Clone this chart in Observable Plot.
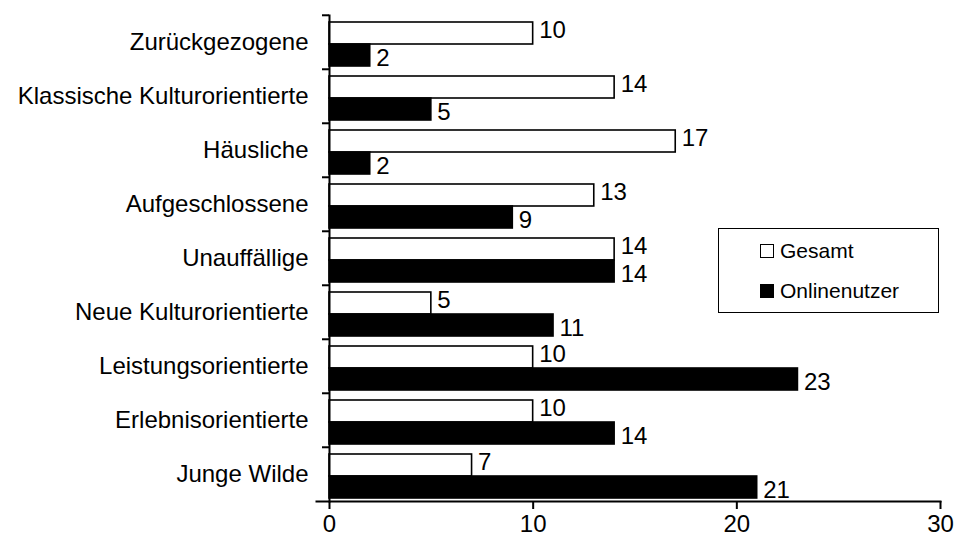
<!DOCTYPE html>
<html><head><meta charset="utf-8">
<script src="https://cdn.jsdelivr.net/npm/d3@7"></script>
<script src="https://cdn.jsdelivr.net/npm/@observablehq/plot@0.6"></script>
<style>
body{margin:0;background:#fff;font-family:"Liberation Sans",Arial,sans-serif;}
#wrap{position:relative;width:957px;height:552px;}
.legend{position:absolute;left:718px;top:228px;width:221px;height:85px;border:1.6px solid #000;box-sizing:border-box;font-size:21px;color:#000;}
.row{position:absolute;left:41px;display:flex;align-items:center;height:24px;}
.sw{width:12px;height:12px;border:1.6px solid #000;margin-right:6px;}
</style></head><body><div id="wrap"></div>
<script>
const categories = ["Zurückgezogene","Klassische Kulturorientierte","Häusliche","Aufgeschlossene","Unauffällige","Neue Kulturorientierte","Leistungsorientierte","Erlebnisorientierte","Junge Wilde"];
const gesamt = [10,14,17,13,14,5,10,10,7];
const online = [2,5,2,9,14,11,23,14,21];
const series = ["Gesamt","Onlinenutzer"];
const seriesFill = ["#ffffff","#000000"];
const xTicks = [0,10,20,30];

const data = categories.flatMap((c,i)=>[
  {cat:c, series:series[0], value:gesamt[i]},
  {cat:c, series:series[1], value:online[i]}
]);
const marginTop = 13, marginBottom = 49, H = 552;
const step = (H - marginTop - marginBottom) / categories.length;
const font = "Liberation Sans, Arial, sans-serif";

const plot = Plot.plot({
  width: 957, height: H,
  marginLeft: 329, marginRight: 17, marginTop, marginBottom,
  style: {fontFamily: font, fontSize: "24px", color: "#000", background: "#fff"},
  x: {domain: [0, 30], ticks: xTicks},
  fy: {domain: categories, padding: 0},
  y: {domain: series, paddingInner: 0, paddingOuter: 0.21, align: 0.74, axis: null},
  color: {domain: series, range: seriesFill},
  marks: [
    Plot.barX(data, {fy: "cat", y: "series", x: "value", fill: "series", stroke: "#000", strokeWidth: 1.6}),
    Plot.text(data.filter(d => d.series === series[0]), {fy: "cat", y: "series", x: "value", text: d => String(d.value), textAnchor: "start", dx: 6, dy: -3, fill: "#000", fontSize: 24, fontFamily: font}),
    Plot.text(data.filter(d => d.series === series[1]), {fy: "cat", y: "series", x: "value", text: d => String(d.value), textAnchor: "start", dx: 6, dy: 3, fill: "#000", fontSize: 24, fontFamily: font}),
    Plot.axisFy({anchor: "left", tickSize: 0, tickPadding: 21, label: null, fontSize: 24, fontFamily: font}),
    Plot.axisFy({anchor: "left", tickSize: 7, tickFormat: () => "", label: null, dy: -step / 2, strokeWidth: 2}),
    Plot.axisX({anchor: "bottom", ticks: xTicks, tickSize: 8, tickPadding: 5, tickFormat: d => String(d), label: null, strokeWidth: 2, fontSize: 24, fontFamily: font}),
    Plot.frame({anchor: "left", facet: "super", strokeWidth: 2}),
    Plot.frame({anchor: "bottom", facet: "super", strokeWidth: 2, insetLeft: -13})
  ]
});
const wrap = document.getElementById("wrap");
wrap.appendChild(plot);
const lg = document.createElement("div");
lg.className = "legend";
lg.innerHTML = series.map((s, i) =>
  `<div class="row" style="top:${i === 0 ? 10 : 50}px"><div class="sw" style="background:${seriesFill[i]}"></div><span>${s}</span></div>`
).join("");
wrap.appendChild(lg);
</script>
</body></html>
